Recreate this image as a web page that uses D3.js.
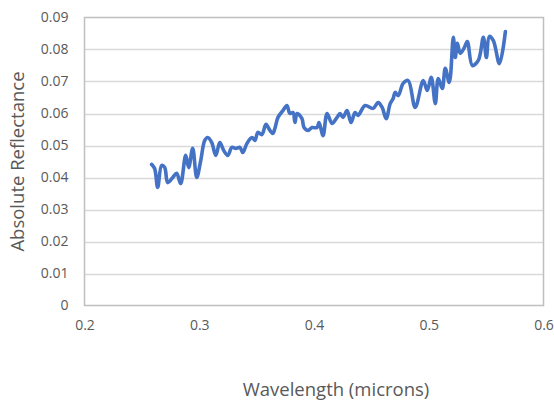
<!DOCTYPE html>
<html><head><meta charset="utf-8">
<script src="https://cdn.jsdelivr.net/npm/d3@7"></script>
<style>body{margin:0;background:#fff}svg{display:block}text{font-family:"Open Sans",sans-serif;fill:#595959}</style>
</head><body><svg id="c" width="554" height="402"></svg>
<script>
const wavelength = [0.2585,0.2611,0.2638,0.2672,0.2699,0.2725,0.2769,0.2803,0.2838,0.2882,0.2908,0.2943,0.2978,0.3013,0.3048,0.3074,0.3109,0.3144,0.3179,0.3214,0.3249,0.3284,0.3319,0.3354,0.3380,0.3415,0.3459,0.3485,0.3511,0.3546,0.3581,0.3616,0.3642,0.3659,0.3686,0.3729,0.3764,0.3790,0.3817,0.3834,0.3852,0.3895,0.3913,0.3948,0.3983,0.4026,0.4044,0.4079,0.4114,0.4157,0.4201,0.4227,0.4253,0.4288,0.4323,0.4358,0.4384,0.4445,0.4515,0.4559,0.4594,0.4629,0.4664,0.4690,0.4707,0.4734,0.4777,0.4821,0.4882,0.4952,0.4987,0.5022,0.5057,0.5083,0.5118,0.5144,0.5179,0.5214,0.5231,0.5249,0.5275,0.5310,0.5336,0.5380,0.5432,0.5476,0.5502,0.5528,0.5563,0.5616,0.5668];
const reflectance = [0.0441,0.0428,0.0369,0.0438,0.0431,0.0384,0.0400,0.0413,0.0381,0.0469,0.0431,0.0491,0.0400,0.0453,0.0516,0.0525,0.0509,0.0469,0.0509,0.0484,0.0469,0.0494,0.0491,0.0494,0.0478,0.0506,0.0525,0.0516,0.0541,0.0534,0.0566,0.0547,0.0538,0.0553,0.0588,0.0609,0.0625,0.0600,0.0603,0.0572,0.0600,0.0584,0.0556,0.0547,0.0556,0.0556,0.0572,0.0531,0.0600,0.0569,0.0588,0.0600,0.0588,0.0609,0.0572,0.0603,0.0594,0.0625,0.0616,0.0634,0.0619,0.0584,0.0631,0.0647,0.0666,0.0656,0.0694,0.0703,0.0619,0.0703,0.0672,0.0713,0.0631,0.0709,0.0678,0.0741,0.0697,0.0838,0.0775,0.0819,0.0788,0.0806,0.0825,0.0750,0.0766,0.0838,0.0775,0.0841,0.0828,0.0756,0.0856];
const xTicks = [0.2,0.3,0.4,0.5,0.6];
const yTicks = [0,0.01,0.02,0.03,0.04,0.05,0.06,0.07,0.08,0.09];
const xTitle = "Wavelength (microns)";
const yTitle = "Absolute Reflectance";

const svg = d3.select("#c");
const L = 84.5, R = 543.5, T = 17.5, B = 305.5;
const x = d3.scaleLinear().domain([0.2,0.6]).range([L,R]);
const y = d3.scaleLinear().domain([0,0.09]).range([B,T]);

svg.append("g").selectAll("line").data(yTicks.slice(1,-1)).join("line")
  .attr("x1",L).attr("x2",R).attr("y1",d=>Math.round(y(d))+0.5).attr("y2",d=>Math.round(y(d))+0.5)
  .attr("stroke","#d9d9d9").attr("stroke-width",1.5);
svg.append("rect").attr("x",L).attr("y",T).attr("width",R-L).attr("height",B-T)
  .attr("fill","none").attr("stroke","#bfbfbf").attr("stroke-width",1.5);

const yAxis = d3.axisLeft(y).tickValues(yTicks).tickSize(0).tickPadding(16)
  .tickFormat(d=>d===0?"0":d3.format(".2f")(d));
svg.append("g").attr("transform",`translate(${L},0)`).call(yAxis)
  .call(g=>g.select(".domain").remove())
  .selectAll("text").style("font-size","14px").attr("fill","#595959");
const xAxis = d3.axisBottom(x).tickValues(xTicks).tickSize(0).tickPadding(15)
  .tickFormat(d=>d3.format(".1f")(d));
svg.append("g").attr("transform",`translate(0,${B})`).call(xAxis)
  .call(g=>g.select(".domain").remove())
  .selectAll("text").style("font-size","14px").attr("fill","#595959");

const pts = wavelength.map((w,i)=>[w,reflectance[i]]);
svg.append("path").datum(pts)
  .attr("d", d3.line().x(d=>x(d[0])).y(d=>y(d[1])).curve(d3.curveCatmullRom.alpha(0.5)))
  .attr("fill","none").attr("stroke","#4472c4").attr("stroke-width",3.6)
  .attr("stroke-linejoin","round").attr("stroke-linecap","round");

svg.append("text").attr("x",336).attr("y",396).attr("text-anchor","middle")
  .style("font-size","18.5px").text(xTitle);
svg.append("text").attr("transform",`translate(24,${(T+B)/2}) rotate(-90)`).attr("text-anchor","middle")
  .style("font-size","18.5px").text(yTitle);
</script></body></html>
